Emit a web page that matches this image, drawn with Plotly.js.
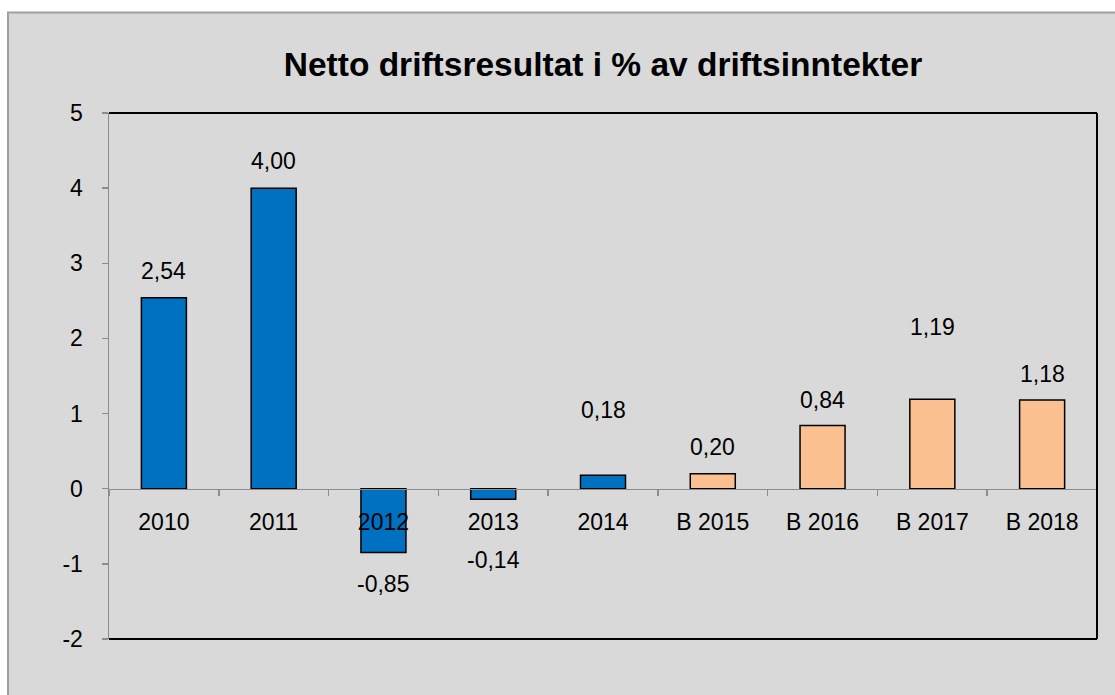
<!DOCTYPE html>
<html><head><meta charset="utf-8">
<script src="https://cdn.plot.ly/plotly-3.0.1.min.js"></script>
<style>html,body{margin:0;padding:0;background:#fff}#chart{width:1115px;height:695px}</style>
</head><body><div id="chart"></div>
<script>
const categories = ['2010','2011','2012','2013','2014','B 2015','B 2016','B 2017','B 2018'];
const values = [2.54, 4.00, -0.85, -0.14, 0.18, 0.20, 0.84, 1.19, 1.18];
const isBudget = [false,false,false,false,false,true,true,true,true];
const yTickVals = [-2,-1,0,1,2,3,4,5];
const yTickText = ['-2','-1','0','1','2','3','4','5'];
const titleText = 'Netto driftsresultat i % av driftsinntekter';

// label pixel offsets (style/layout, matches reference placement)
const labelShift = [27, 27, -31, -61, 65, 27, 26, 72, 26];

const FONT = 'Liberation Sans, Arial, sans-serif';
const colors = isBudget.map(b => b ? '#fac090' : '#0070c0');

const trace = {
  type: 'bar', x: categories, y: values,
  marker: {color: colors, line: {color: '#000', width: 1.5}},
  width: 0.41, hoverinfo: 'skip', cliponaxis: false
};

const annotations = values.map((v, i) => ({
  x: i, y: v, xref: 'x', yref: 'y',
  text: v.toFixed(2).replace('.', ','),
  showarrow: false, yanchor: 'middle', xanchor: 'center',
  yshift: labelShift[i], font: {family: FONT, size: 23, color: '#000'}
}));

const L = 109, R = 18, T = 112.5, B = 56;
const pw = 1115 - L - R, ph = 695 - T - B;
const px = x => (x - L) / pw;
const py = y => (695 - B - y) / ph;

const layout = {
  width: 1115, height: 695,
  margin: {l: L, r: R, t: T, b: B, pad: 0},
  paper_bgcolor: '#ffffff', plot_bgcolor: 'rgba(0,0,0,0)',
  showlegend: false,
  title: {text: '<b>' + titleText + '</b>', font: {family: FONT, size: 33.5, color: '#000'},
          x: 0.5, xref: 'paper', xanchor: 'center', y: 1 - 64/695, yanchor: 'middle'},
  xaxis: {type: 'category', anchor: 'free', position: 2/7,
    range: [-0.5, categories.length - 0.5], autorange: false,
    showline: true, linecolor: '#8c8c8c', linewidth: 1.5,
    ticks: 'outside', tickson: 'boundaries', ticklen: 6, tickcolor: '#8c8c8c', tickwidth: 1.5,
    showgrid: false, zeroline: false, fixedrange: true, tickangle: 0,
    tickfont: {family: FONT, size: 23, color: '#000'}, ticklabelstandoff: 12},
  yaxis: {range: [-2, 5], autorange: false, tickvals: yTickVals, ticktext: yTickText,
    showline: true, linecolor: '#8c8c8c', linewidth: 1.5,
    ticks: 'outside', ticklen: 6, tickcolor: '#8c8c8c', tickwidth: 1.5,
    showgrid: false, zeroline: false, fixedrange: true,
    tickfont: {family: FONT, size: 23, color: '#000'}, ticklabelstandoff: 14},
  annotations: annotations,
  shapes: [
    {type: 'rect', xref: 'paper', yref: 'paper', layer: 'below',
     x0: px(8), x1: px(1130), y0: py(710), y1: py(12),
     fillcolor: '#d9d9d9', line: {color: '#a0a0a0', width: 2}},
    {type: 'line', xref: 'paper', yref: 'paper', x0: 0, x1: 1, y0: 1, y1: 1, line: {color: '#000', width: 2}},
    {type: 'line', xref: 'paper', yref: 'paper', x0: 1, x1: 1, y0: 0, y1: 1, line: {color: '#000', width: 2}},
    {type: 'line', xref: 'paper', yref: 'paper', x0: 0, x1: 1, y0: 0, y1: 0, line: {color: '#000', width: 2}}
  ]
};

Plotly.newPlot('chart', [trace], layout, {displayModeBar: false, staticPlot: true});
</script>
</body></html>
